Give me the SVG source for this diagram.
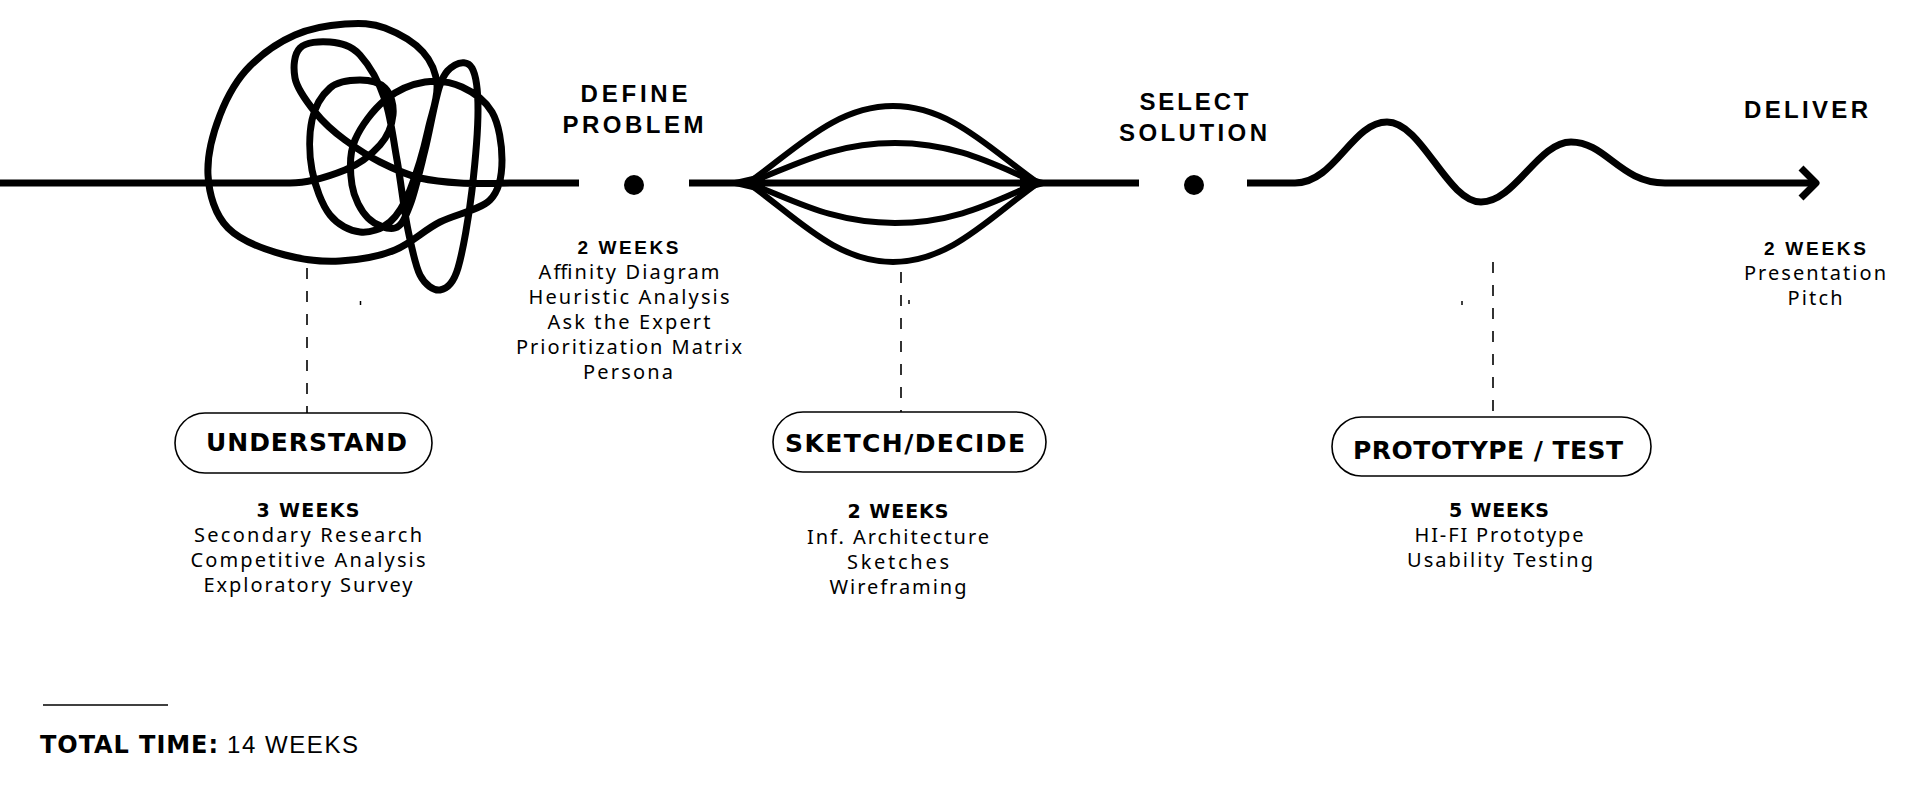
<svg xmlns="http://www.w3.org/2000/svg" width="1920" height="787" viewBox="0 0 1920 787">
<style>
.ln{fill:none;stroke:#000;stroke-width:7;stroke-linecap:butt;stroke-linejoin:round}
.lens{fill:none;stroke:#000;stroke-width:6;stroke-linecap:round}
.dash{stroke:#000;stroke-width:1.6;stroke-dasharray:11 12;fill:none}
.tick{stroke:#000;stroke-width:1.5}
.pill{fill:#fff;stroke:#000;stroke-width:1.6}
.h{font-family:"Liberation Sans",Arial,sans-serif;font-weight:700;font-size:24px;fill:#000;text-anchor:middle}
.w{font-family:"Liberation Sans",Arial,sans-serif;font-weight:700;font-size:19px;fill:#000;text-anchor:middle}
.b{font-family:"Noto Sans","Open Sans",sans-serif;font-size:20px;fill:#000;text-anchor:middle}
.pl{font-family:"DejaVu Sans",Verdana,sans-serif;font-weight:700;font-size:25px;fill:#000;text-anchor:middle}
.wx{font-family:"DejaVu Sans",Verdana,sans-serif;font-weight:700;font-size:19px;fill:#000;text-anchor:middle}
</style>
<rect width="1920" height="787" fill="#fff"/>
<g id="connectors">
<path class="ln" d="M0,183 L290,183 C310,183 330,176 345,170 S372,154 380,145 S392,125 393,115 S391,94 385,88 S369,80 360,80 S338,81 330,88 S315,106 312,120 S309,154 312,170 S322,205 330,215 S350,231 360,232 S382,229 390,222 S404,205 410,190 S424,148 428,130 S438,98 437,85 S432,62 423,52 S398,33 385,28 S360,23 345,24 S311,28 295,35 S263,53 250,66 S227,97 220,115 S207,156 208,175 S215,215 228,228 S266,250 285,255 S322,262 340,261 S378,257 395,250 S424,230 440,222 S480,210 490,200 S502,175 502,160 S499,124 492,112 S473,92 462,87 S438,80 425,82 S397,90 385,100 S361,126 355,140 S350,172 352,185 S361,211 368,218 S388,230 395,228 S405,218 410,205 S420,170 425,150 S435,99 440,85 S450,68 455,65 S468,61 472,68 S478,90 478,110 S475,164 472,190 S463,251 458,268 S446,289 440,290 S425,285 420,275 S412,249 408,230 S401,182 397,160 S391,118 385,100 S369,65 360,55 S340,43 330,42 S306,42 300,48 S293,67 295,78 S307,102 315,112 S334,132 345,140 S368,156 380,162 S407,175 420,178 S443,182 460,183 S500,183 520,183 L579,183"/>
<circle cx="634" cy="185" r="10" fill="#000"/>
<path class="ln" d="M689,183 L1139,183"/>
<path class="lens" d="M748,183 C795,150 835,106 893,106 C951,106 991,150 1038,183"/>
<path class="lens" d="M748,183 C790,168 830,143 895,143 C960,143 1000,168 1038,183"/>
<path class="lens" d="M748,183 C790,198 830,223 895,223 C960,223 1000,198 1038,183"/>
<path class="lens" d="M748,183 C795,216 835,262 893,262 C951,262 991,216 1038,183"/>
<path d="M712,183 C730,182 748,177 765,173 L765,193 C748,189 730,184 712,183 Z" fill="#000"/>
<path d="M1062,183 C1045,182 1035,177 1020,173 L1020,193 C1035,189 1045,184 1062,183 Z" fill="#000"/>
<circle cx="1194" cy="185" r="10" fill="#000"/>
<path class="ln" d="M1247,183 L1295,183 C1335,183 1352,122 1387,122 C1422,122 1447,202 1481,202 C1515,202 1538,142 1571,142 C1606,142 1620,183 1665,183 L1814,183"/>
<polyline class="ln" stroke-width="6" points="1801,168 1816,183 1801,198"/>
<line class="dash" x1="307" y1="268" x2="307" y2="413"/>
<line class="dash" x1="901" y1="272" x2="901" y2="412"/>
<line class="dash" x1="1493" y1="262" x2="1493" y2="417"/>
<line class="tick" x1="360.5" y1="301" x2="360.5" y2="305"/>
<line class="tick" x1="909" y1="300" x2="909" y2="304"/>
<line class="tick" x1="1462" y1="301" x2="1462" y2="305"/>
</g>
<g id="define-problem">
<text class="h" x="634" y="102" textLength="107">DEFINE</text>
<text class="h" x="633" y="133" textLength="141">PROBLEM</text>
<text class="w" x="628" y="254" textLength="101">2 WEEKS</text>
<text class="b" x="629" y="279" textLength="181">Affinity Diagram</text>
<text class="b" x="629" y="304" textLength="201">Heuristic Analysis</text>
<text class="b" x="629" y="329" textLength="163">Ask the Expert</text>
<text class="b" x="629" y="354" textLength="226">Prioritization Matrix</text>
<text class="b" x="628" y="379" textLength="90">Persona</text>
</g>
<g id="select-solution">
<text class="h" x="1194" y="110" textLength="109">SELECT</text>
<text class="h" x="1193" y="141" textLength="148">SOLUTION</text>
</g>
<g id="deliver">
<text class="h" x="1806" y="118" textLength="124">DELIVER</text>
<text class="w" x="1815" y="255" textLength="102">2 WEEKS</text>
<text class="b" x="1815" y="280" textLength="142">Presentation</text>
<text class="b" x="1815" y="305" textLength="55">Pitch</text>
</g>
<g id="understand">
<rect class="pill" x="175" y="413" width="257" height="60" rx="30"/>
<text class="pl" x="306.5" y="451" textLength="201">UNDERSTAND</text>
<text class="wx" x="308" y="517" textLength="103">3 WEEKS</text>
<text class="b" x="308" y="542" textLength="228">Secondary Research</text>
<text class="b" x="308" y="567" textLength="235">Competitive Analysis</text>
<text class="b" x="308" y="592" textLength="209">Exploratory Survey</text>
</g>
<g id="sketch-decide">
<rect class="pill" x="773" y="412" width="273" height="60" rx="30"/>
<text class="pl" x="905" y="452" textLength="240">SKETCH/DECIDE</text>
<text class="wx" x="898" y="518" textLength="101">2 WEEKS</text>
<text class="b" x="898" y="544" textLength="182">Inf. Architecture</text>
<text class="b" x="898" y="569" textLength="102">Sketches</text>
<text class="b" x="898" y="594" textLength="137">Wireframing</text>
</g>
<g id="prototype-test">
<rect class="pill" x="1332" y="417" width="319" height="59" rx="29.5"/>
<text class="pl" x="1488" y="459" textLength="270">PROTOTYPE / TEST</text>
<text class="wx" x="1499" y="517" textLength="100">5 WEEKS</text>
<text class="b" x="1499" y="542" textLength="169">HI-FI Prototype</text>
<text class="b" x="1500" y="567" textLength="186">Usability Testing</text>
</g>
<g id="total">
<line x1="43" y1="705" x2="168" y2="705" stroke="#000" stroke-width="1.6"/>
<text x="40" y="753" font-family="DejaVu Sans, Verdana, sans-serif" font-weight="700" font-size="24" fill="#000" textLength="178">TOTAL TIME:</text>
<text x="227" y="753" font-family="Liberation Sans, Arial, sans-serif" font-size="24" fill="#000" textLength="131">14 WEEKS</text>
</g>
</svg>
